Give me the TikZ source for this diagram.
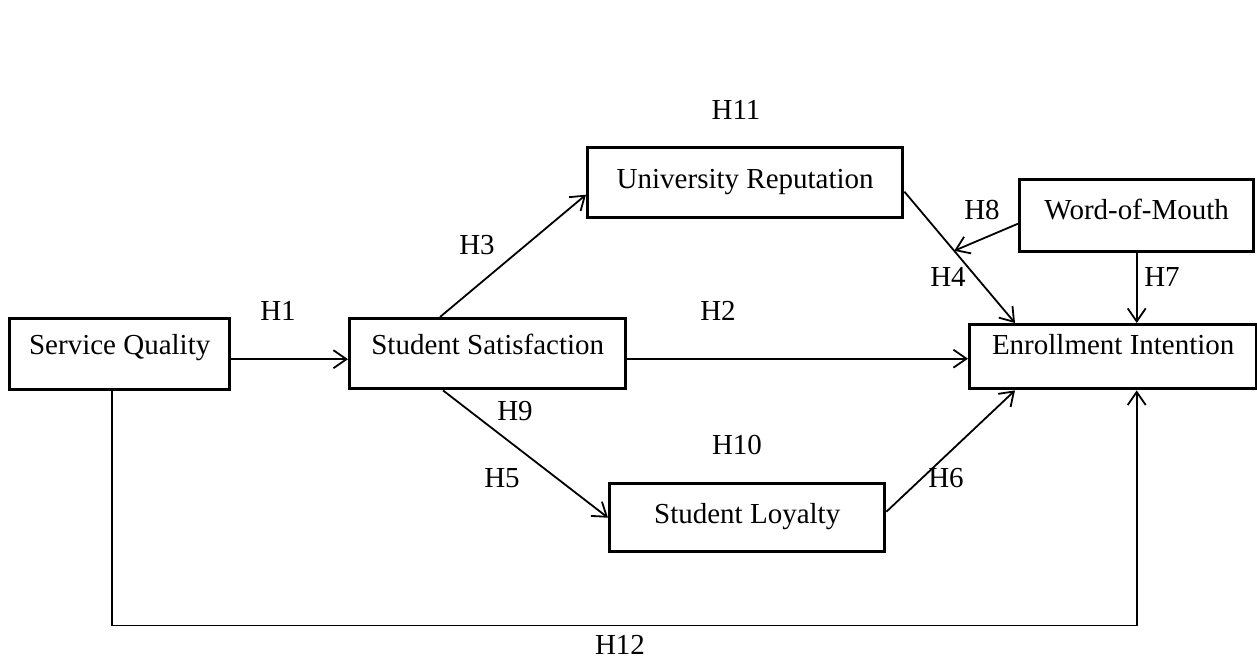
\documentclass[tikz,border=0pt]{standalone}
\usepackage{fontspec}
\setmainfont{Liberation Serif}
\usepackage{tikz}
\usetikzlibrary{positioning,arrows.meta,calc}

\begin{document}
\begin{tikzpicture}[
  x=0.5pt, y=-0.5pt,
  font=\fontsize{14.5}{17}\selectfont,
  var/.style={draw, line width=1.7pt, inner xsep=0pt, inner ysep=0pt, anchor=north west, align=center},
  hyp/.style={inner sep=0pt},
  arr/.style={-{Straight Barb[length=6.5pt,width=9pt]}, line width=0.9pt},
]
\useasboundingbox (0,0) rectangle (1257,659);
% constructs
\node[var, minimum width=110pt, text height=18pt, text depth=17.5pt] (sq) at (8,317) {Service Quality};
\node[var, minimum width=138pt, text height=18pt, text depth=17pt] (ss) at (348,317) {Student Satisfaction};
\node[var, minimum width=157.5pt, text height=20.5pt, text depth=14.5pt] (ur) at (586,146) {University Reputation};
\node[var, minimum width=117pt, text height=20pt, text depth=16pt] (wom) at (1018,178) {Word-of-Mouth};
\node[var, minimum width=143.5pt, text height=15pt, text depth=17pt] (ei) at (968,323) {Enrollment Intention};
\node[var, minimum width=137.5pt, text height=20pt, text depth=14pt] (sl) at (608,482) {Student Loyalty};
% paths
\draw[arr] ([yshift=-2.5pt]sq.east) -- ([yshift=-2.5pt]sq.east -| ss.west);
\draw[arr] ([yshift=-2.5pt]ss.east) -- ([yshift=-2.5pt]ss.east -| ei.west);
\draw[arr] ([xshift=46pt]ss.north west) -- ([yshift=-6pt]ur.west);
\draw[arr] ([yshift=-4.5pt]ur.east) -- coordinate[pos=0.45] (h4mid) ([xshift=23.5pt]ei.north west);
\draw[arr] ([yshift=-4pt]wom.west) -- (h4mid);
\draw[arr] (wom.south) -- (wom.south |- ei.north);
\draw[arr] ([xshift=47.5pt]ss.south west) -- (sl.west);
\draw[arr] ([yshift=3pt]sl.east) -- ([xshift=23.5pt]ei.south west);
\draw[arr] ([xshift=-4pt]sq.south) -- ++(0,234) -| (wom.south |- ei.south);
% hypotheses
\node[hyp] (h1) at (278,311) {H1};
\node[hyp] (h2) at (718,311) {H2};
\node[hyp] (h3) at (477,245) {H3};
\node[hyp] (h4) at (948,277) {H4};
\node[hyp] (h5) at (502,478) {H5};
\node[hyp] (h6) at (946,478) {H6};
\node[hyp] (h7) at (1162,277) {H7};
\node[hyp] (h8) at (982,210) {H8};
\node[hyp] (h9) at (515,411) {H9};
\node[hyp] (h10) at (737,445) {H10};
\node[hyp] (h11) at (736,110) {H11};
\node[hyp] (h12) at (620,645) {H12};
\end{tikzpicture}
\end{document}
